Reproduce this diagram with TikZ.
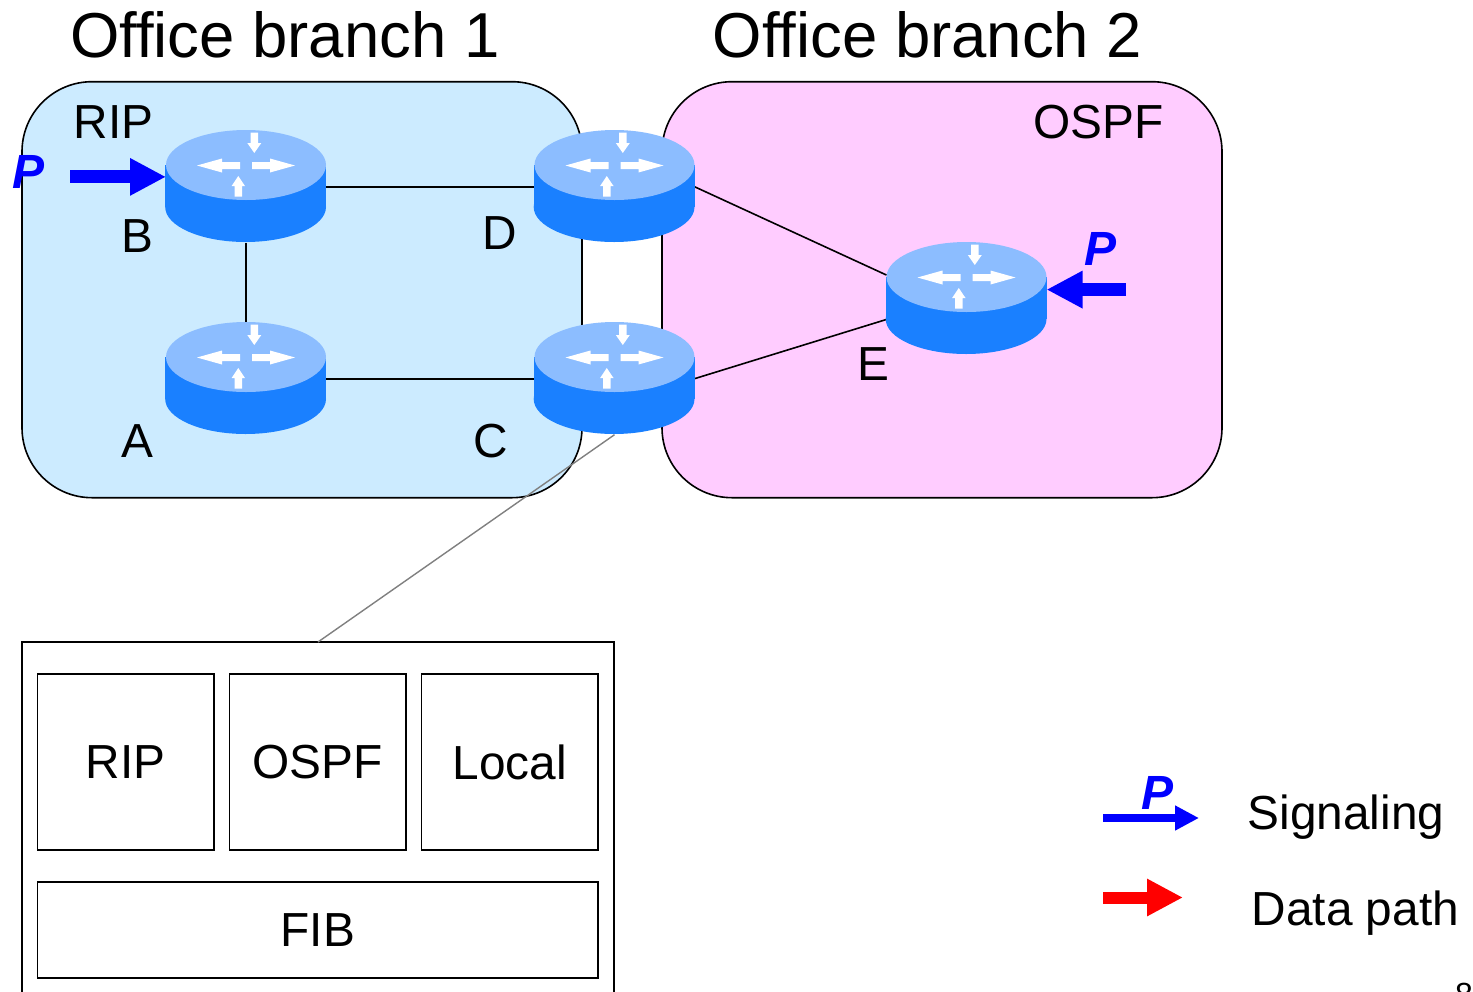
\documentclass[tikz,border=0pt]{standalone}
\usepackage{fontspec}
\setmainfont{Liberation Sans}
\usetikzlibrary{arrows.meta}
\definecolor{regionblue}{HTML}{CCEBFF}
\definecolor{regionpink}{HTML}{FFCCFF}
\definecolor{routertop}{HTML}{8CBDFF}
\definecolor{routerside}{HTML}{1A80FF}
\tikzset{
  region/.style={draw=black,line width=1.6pt,rounded corners=70pt,minimum width=560pt,minimum height=416pt,inner sep=0pt,outer sep=0pt},
  routerbox/.style={minimum width=160pt,minimum height=112pt,inner sep=0pt,outer sep=0pt},
  link/.style={draw=black,line width=1.6pt},
  cable/.style={draw=black!50,line width=1.4pt},
  title/.style={font=\fontsize{63.5}{64}\selectfont,anchor=base west,inner sep=0pt},
  lab/.style={font=\fontsize{47.8}{48}\selectfont,anchor=base west,inner sep=0pt},
  plabel/.style={font=\fontsize{48}{48}\selectfont\bfseries\itshape,text=blue,anchor=base west,inner sep=0pt},
  modbox/.style={draw=black,line width=1.6pt,font=\fontsize{47.8}{48}\selectfont,inner sep=0pt,outer sep=0pt},
  sigbig/.style={draw=blue,line width=13pt,-{Triangle[length=36pt,width=35pt]}},
  sigsmall/.style={draw=blue,line width=8pt,-{Triangle[length=24pt,width=23.5pt]}},
  datapath/.style={draw=red,line width=12pt,-{Triangle[length=36pt,width=35pt]}},
  glyph/.style={fill=white,draw=none}
}
\newcommand{\routerat}[2]{%
  \begin{scope}[shift={(#1,#2)}]
    \fill[routerside] (-80.8,-21) -- (80,-21) -- (80,21) -- (-80.8,21) -- cycle;
    \fill[routerside] (-0.4,21) ellipse[x radius=80.4,y radius=35];
    \fill[routertop] (0,-21) ellipse[x radius=80,y radius=35];
    \fill[glyph] (-49,-20.5) -- (-24,-27.5) -- (-24,-24) -- (-6,-24) -- (-6,-17) -- (-24,-17) -- (-24,-13.5) -- cycle;
    \fill[glyph] (49,-20.5) -- (24,-27.5) -- (24,-24) -- (6,-24) -- (6,-17) -- (24,-17) -- (24,-13.5) -- cycle;
    \fill[glyph] (8.3,-33) -- (1.3,-43) -- (4.6,-43) -- (4.6,-53.5) -- (12,-53.5) -- (12,-43) -- (15.3,-43) -- cycle;
    \fill[glyph] (-7.7,-10) -- (-14.4,0) -- (-11.4,0) -- (-11.4,10.7) -- (-4,10.7) -- (-4,0) -- (-1,0) -- cycle;
  \end{scope}}
\begin{document}
\begin{tikzpicture}[x=1pt,y=-1pt]
\clip (0,0) rectangle (1473,991);
\fill[white] (0,0) rectangle (1473,991);

\node[region,fill=regionblue] (branchone) at (302,289.7) {};
\node[region,fill=regionpink] (branchtwo) at (942,289.7) {};

\node[title] (titleone) at (70,57) {Office branch 1};
\node[title] (titletwo) at (712.5,57) {Office branch 2};
\node[lab] (riplab) at (73.5,138) {RIP};
\node[lab] (ospflab) at (1033,138) {OSPF};

\node[routerbox] (B) at (246,186.7) {};
\node[routerbox] (A) at (246,378.7) {};
\node[routerbox] (D) at (614.5,186.7) {};
\node[routerbox] (C) at (614.5,378.7) {};
\node[routerbox] (E) at (966.5,298) {};

\node[modbox,minimum width=592pt,minimum height=400pt] (router) at (318,842) {};
\node[modbox,minimum width=176.5pt,minimum height=176.5pt] (rip) at (125.8,762) {RIP};
\node[modbox,minimum width=176.5pt,minimum height=176.5pt] (ospf) at (317.8,762) {OSPF};
\node[modbox,minimum width=176.5pt,minimum height=176.5pt] (local) at (509.8,762) {Local};
\node[modbox,minimum width=560.5pt,minimum height=96pt] (fib) at (317.8,930) {FIB};

\draw[link] (B.east) -- (D.west);
\draw[link] (A.east) -- (C.west);
\draw[link] (B.south) -- (A.north);
\draw[link] (D.east) -- (E.164.6);
\draw[link] (C.east) -- (E.195.4);
\draw[cable] (C.south) -- (router.north);

\routerat{246}{186}
\routerat{246}{378}
\routerat{614.5}{186}
\routerat{614.5}{378}
\routerat{966.5}{298}

\node[lab] (labB) at (121,252) {B};
\node[lab] (labD) at (482.5,249) {D};
\node[lab] (labA) at (121.5,457) {A};
\node[lab] (labC) at (473,457) {C};
\node[lab] (labE) at (857.5,380) {E};

\coordinate (pinB) at (70,0 |- B.173.9);
\coordinate (pinE) at (1126,0 |- E.6.4);
\draw[sigbig] (pinB) -- (B.173.9);
\draw[sigbig] (pinE) -- (E.6.4);
\node[plabel] (pB) at (12,188.5) {P};
\node[plabel] (pE) at (1084,265) {P};

\coordinate (legsigA) at (1103,818);
\coordinate (legsigB) at (1199,818);
\coordinate (legdatA) at (1103,897.5);
\coordinate (legdatB) at (1183,897.5);
\draw[sigsmall] (legsigA) -- (legsigB);
\draw[datapath] (legdatA) -- (legdatB);
\node[plabel] (pLeg) at (1141,809) {P};
\node[lab] (sigtext) at (1247.5,829) {Signaling};
\node[lab] (dattext) at (1251.5,925) {Data path};
\node[font=\fontsize{32}{32}\selectfont,anchor=base west,inner sep=0pt] (pagenum) at (1455,1005) {8};
\end{tikzpicture}
\end{document}
